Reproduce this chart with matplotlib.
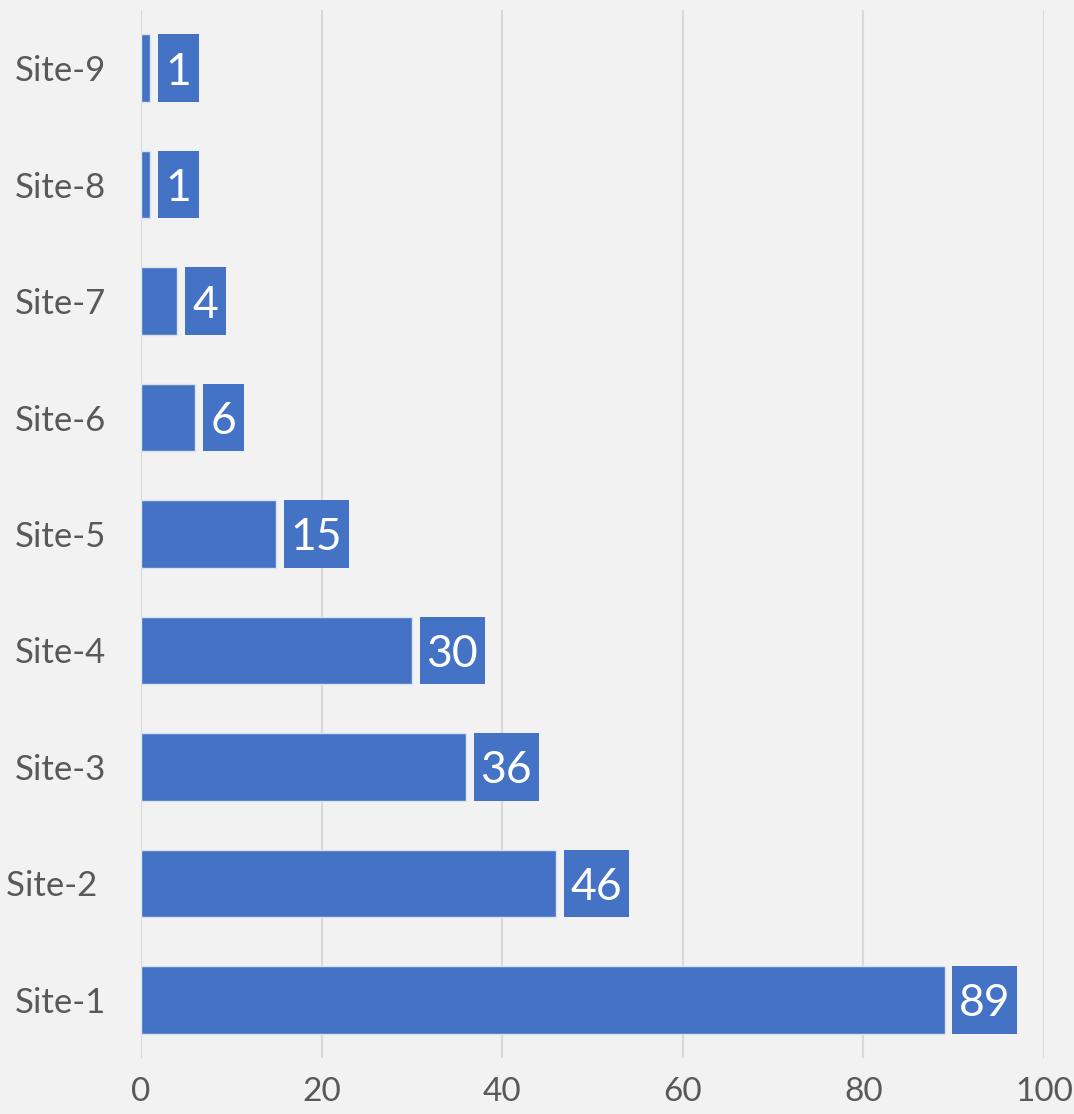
import matplotlib.pyplot as plt

plt.rcParams['font.family'] = ['Lato', 'DejaVu Sans']

sites = ['Site-1', 'Site-2 ', 'Site-3', 'Site-4', 'Site-5', 'Site-6', 'Site-7', 'Site-8', 'Site-9']
counts = [89, 46, 36, 30, 15, 6, 4, 1, 1]
x_ticks = [0, 20, 40, 60, 80, 100]

BAR_COLOR = '#4472C4'
BG = '#F2F2F2'


def main():
    fig = plt.figure(figsize=(10.74, 11.14), dpi=100, facecolor=BG)
    ax = fig.add_axes([0.1313, 0.0503, 0.8408, 0.9407], facecolor=BG)

    pos = list(range(len(sites)))
    ax.barh(pos, counts, height=0.58, color=BAR_COLOR, edgecolor='#DCE3F0', linewidth=1, zorder=3)

    # value labels in blue boxes right of each bar
    for p, v in zip(pos, counts):
        s = str(v)
        w = 2.65 * len(s) + 1.9
        left = v + 0.85
        ax.barh(p, w, left=left, height=0.58, color=BAR_COLOR, linewidth=0, zorder=3)
        ax.text(left + w / 2, p, s, color='white', fontsize=32, ha='center', va='center_baseline', zorder=4)

    ax.set_xlim(0, 100)
    ax.set_ylim(-0.5, len(sites) - 0.5)
    ax.set_yticks(pos)
    ax.set_yticklabels(sites)
    ax.set_xticks(x_ticks)
    ax.tick_params(axis='both', length=0, labelsize=25, labelcolor='#595959')
    ax.tick_params(axis='y', pad=25)
    ax.tick_params(axis='x', labelsize=24, pad=14)
    ax.grid(axis='x', color='#D9D9D9', linewidth=1.5, zorder=0)
    ax.set_axisbelow(True)
    for sp in ax.spines.values():
        sp.set_visible(False)

    fig.savefig('out.png', dpi=100, facecolor=BG)


if __name__ == '__main__':
    main()
